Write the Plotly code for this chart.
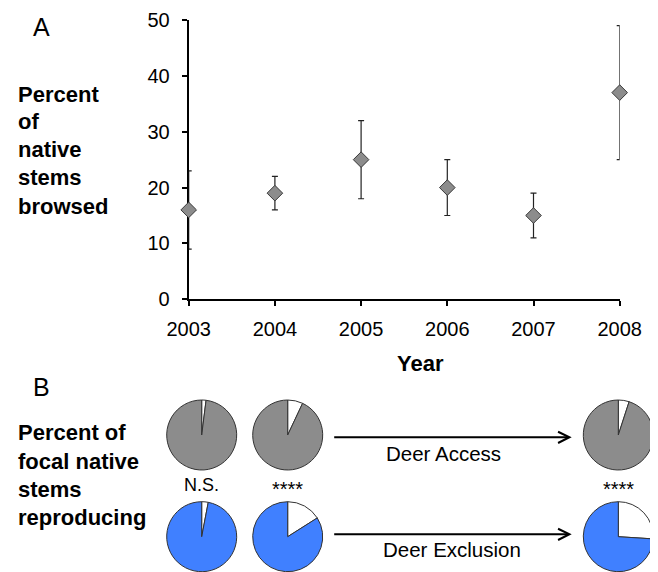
import plotly.graph_objects as go

# ---- data -------------------------------------------------------------
years = [2003, 2004, 2005, 2006, 2007, 2008]
pct_browsed = [16, 19, 25, 20, 15, 37]
err_browsed = [7, 3, 7, 5, 4, 12]
y_tick_vals = [0, 10, 20, 30, 40, 50]

significance = ["N.S.", "****", "****"]
access_reproducing = [2, 7, 5]          # % reproducing, deer access
exclusion_reproducing = [3, 16, 26]     # % reproducing, deer exclusion

# ---- layout helpers ----------------------------------------------------
W, H = 658, 572
OX, OY = 8, 8      # page body margin offset
FONT = "Liberation Sans, Arial, Helvetica, sans-serif"


def fx(px):
    return (px - OX) / W


def fy(py):
    return 1 - (py - OY) / H


fig = go.Figure()

# Panel A: scatter with error bars
fig.add_trace(go.Scatter(
    x=years, y=pct_browsed, mode="markers",
    error_y=dict(type="data", array=err_browsed, visible=True,
                 color="#222222", thickness=1.2, width=3),
    marker=dict(symbol="diamond", size=12, color="#8c8c8c",
                line=dict(color="#3a3a3a", width=1)),
    cliponaxis=False, showlegend=False, hoverinfo="skip",
))

# Panel B: pies
pie_cx = [201.7, 287.7, 618.3]
row_cy = [435.0, 536.7]
R = 35.0
rows = [(access_reproducing, "#8c8c8c"), (exclusion_reproducing, "#4080ff")]
for (vals, col), cy in zip(rows, row_cy):
    for v, cx in zip(vals, pie_cx):
        fig.add_trace(go.Pie(
            values=[v, 100 - v], labels=["reproducing", "not reproducing"],
            marker=dict(colors=["white", col], line=dict(color="#333333", width=1)),
            sort=False, direction="clockwise", rotation=0,
            textinfo="none", hoverinfo="skip", showlegend=False,
            domain=dict(x=[fx(cx - R), fx(cx + R)], y=[fy(cy + R), fy(cy - R)]),
        ))

annotations = []


def txt(text, x, y, size, bold=False, xanchor="center", yanchor="middle", align="center"):
    annotations.append(dict(
        text=f"<b>{text}</b>" if bold else text, x=fx(x), y=fy(y),
        xref="paper", yref="paper", showarrow=False, xanchor=xanchor,
        yanchor=yanchor, align=align, font=dict(family=FONT, size=size, color="black"),
    ))


txt("A", 41.7, 27, 25)
txt("B", 41.7, 387, 25)
for line, y in zip(["Percent", "of", "native", "stems", "browsed"],
                   [94.5, 121.5, 149.5, 177.5, 206]):
    txt(line, 16, y, 22, bold=True, xanchor="left")
for line, y in zip(["Percent of", "focal native", "stems", "reproducing"],
                   [432.5, 461, 489, 517.5]):
    txt(line, 16, y, 22, bold=True, xanchor="left")
txt("Year", 420, 363, 22, bold=True)

sig_y = [485, 489, 489]
for s, cx, sy in zip(significance, pie_cx, sig_y):
    txt(s, cx, sy, 18 if s == "N.S." else 20)

txt("Deer Access", 443, 453, 20.5)
txt("Deer Exclusion", 451.7, 549, 20.5)

arrow_x0, arrow_x1 = 332.7, 571.7
for y in [437.3, 534.3]:
    annotations.append(dict(
        x=fx(arrow_x1), y=fy(y), ax=-(arrow_x1 - arrow_x0), ay=0,
        xref="paper", yref="paper", axref="pixel", ayref="pixel",
        text="", showarrow=True, arrowhead=5, arrowsize=1.1,
        arrowwidth=2, arrowcolor="black", standoff=0,
    ))

fig.update_layout(
    width=W, height=H, margin=dict(l=0, r=0, t=0, b=0, autoexpand=False),
    paper_bgcolor="white", plot_bgcolor="white",
    annotations=annotations,
    xaxis=dict(domain=[fx(188.7), fx(619.7)], range=[2003, 2008], automargin=False,
               tickvals=years, ticks="outside", ticklen=5, tickwidth=2,
               tickcolor="black", showline=True, linecolor="black", linewidth=2,
               showgrid=False, zeroline=False, layer="below traces",
               tickfont=dict(family=FONT, size=20, color="black"),
               ticklabelstandoff=6),
    yaxis=dict(domain=[fy(299.3), fy(20)], range=[0, 50], automargin=False,
               tickvals=y_tick_vals, ticks="outside", ticklen=5, tickwidth=2,
               tickcolor="black", showline=True, linecolor="black", linewidth=2,
               showgrid=False, zeroline=False, layer="below traces",
               tickfont=dict(family=FONT, size=20, color="black"),
               ticklabelstandoff=8),
)

fig.write_html("out.html")
